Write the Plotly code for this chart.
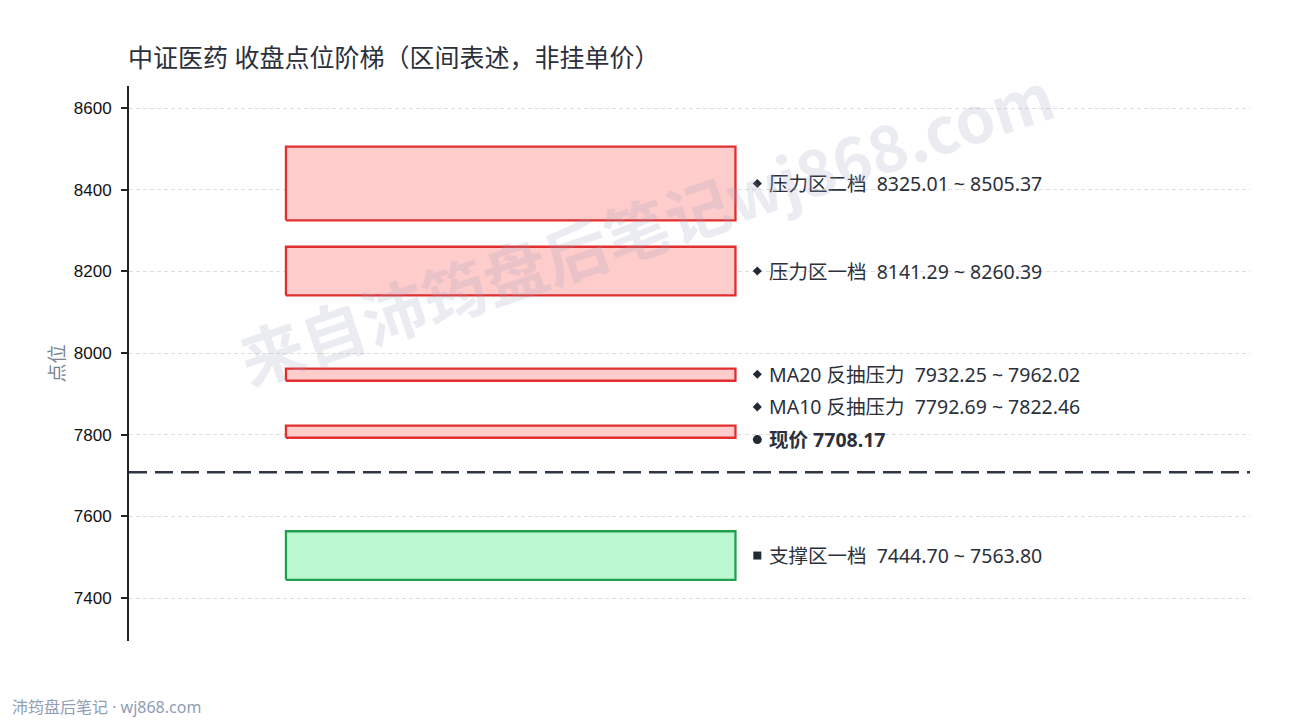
import plotly.graph_objects as go

# ---- data ----
zone_names = ["压力区二档", "压力区一档", "MA20 反抽压力", "MA10 反抽压力", "支撑区一档"]
zone_lows = [8325.01, 8141.29, 7932.25, 7792.69, 7444.70]
zone_highs = [8505.37, 8260.39, 7962.02, 7822.46, 7563.80]
zone_kinds = ["resist", "resist", "resist", "resist", "support"]
current_price = 7708.17
y_ticks = [7400, 7600, 7800, 8000, 8200, 8400, 8600]

# ---- style ----
BOX_X0, BOX_X1 = 0.14, 0.541
MARK_X, TEXT_X = 0.5605, 0.5695
MIN_GAP = 80.0
Y_RANGE = [7295, 8654]
STYLE = {
    "resist": dict(fill="#ffcccc", line="#e02f2f", symbol="diamond", msize=7),
    "support": dict(fill="#bbf7d0", line="#22a04f", symbol="square", msize=8),
}
TEXT_COLOR = "#2b303b"
FONT = "Noto Sans, Noto Sans CJK SC, sans-serif"
OFF = 8  # page body offset
L, R, T, B = 129 - OFF, 48, 86 - OFF, 87
PW, PH = 1290 - L - R, 720 - T - B

fig = go.Figure()

# boxes
for name, lo, hi, kind in zip(zone_names, zone_lows, zone_highs, zone_kinds):
    st = STYLE[kind]
    fig.add_trace(go.Scatter(
        x=[BOX_X0, BOX_X1, BOX_X1, BOX_X0, BOX_X0],
        y=[lo, lo, hi, hi, lo],
        mode="lines", fill="toself", fillcolor=st["fill"],
        line=dict(color=st["line"], width=2.3),
        hoverinfo="skip", showlegend=False,
    ))

# current price line
fig.add_trace(go.Scatter(
    x=[0, 1], y=[current_price, current_price], mode="lines",
    line=dict(color="#2f3744", width=2.4, dash="18px,8px"),
    hoverinfo="skip", showlegend=False,
))

# label placement (ascending, minimum gap)
labels = []
for name, lo, hi, kind in zip(zone_names, zone_lows, zone_highs, zone_kinds):
    labels.append(dict(y=(lo + hi) / 2, text=f"{name}\u00a0\u00a0{lo:.2f}\u00a0~\u00a0{hi:.2f}",
                       symbol=STYLE[kind]["symbol"], msize=STYLE[kind]["msize"], bold=False))
labels.append(dict(y=current_price + MIN_GAP, text=f"现价 {current_price:.2f}",
                   symbol="circle", msize=9, bold=True))
labels.sort(key=lambda d: d["y"])
prev = None
for lb in labels:
    if prev is not None and lb["y"] < prev + MIN_GAP:
        lb["y"] = prev + MIN_GAP
    prev = lb["y"]

for lb in labels:
    fig.add_trace(go.Scatter(
        x=[MARK_X], y=[lb["y"]], mode="markers",
        marker=dict(symbol=lb["symbol"], size=lb["msize"], color="#222a36"),
        hoverinfo="skip", showlegend=False,
    ))
    fig.add_annotation(
        x=TEXT_X, y=lb["y"], xref="x", yref="y", xanchor="left", yanchor="middle",
        text=(f"<b>{lb['text']}</b>" if lb["bold"] else lb["text"]),
        showarrow=False, font=dict(family=FONT, size=19.5, color=TEXT_COLOR),
    )

# watermark
fig.add_annotation(
    x=(645 - OFF - L) / PW, y=(720 - B - (225 - OFF)) / PH, xref="paper", yref="paper",
    xanchor="center", yanchor="middle",
    text="<b>来自沛筠盘后笔记wj868.com</b>", showarrow=False, textangle=-18.5,
    font=dict(family="Noto Sans CJK SC, sans-serif", size=64, color="rgba(150,160,190,0.2)"),
)

# footer
fig.add_annotation(
    x=(2 - L) / PW, y=-(B - 8) / PH, xref="paper", yref="paper",
    xanchor="left", yanchor="bottom", text="沛筠盘后笔记 · wj868.com", showarrow=False,
    font=dict(family=FONT, size=16, color="#8f9db5"),
)

fig.update_layout(
    width=1290, height=720,
    margin=dict(l=L, r=R, t=T, b=B, autoexpand=False),
    paper_bgcolor="white", plot_bgcolor="white",
    title=dict(text="中证医药 收盘点位阶梯（区间表述，非挂单价）", x=(L - 1) / 1290, xanchor="left",
               y=1 - 50 / 720, yanchor="middle", automargin=False,
               font=dict(family=FONT, size=25, color="#2b303b")),
    xaxis=dict(range=[0, 1], visible=False, fixedrange=True),
    yaxis=dict(
        range=Y_RANGE, tickvals=y_ticks, ticktext=[str(v) for v in y_ticks],
        automargin=False,
        showline=True, linecolor="#222", linewidth=2, ticks="outside", ticklen=6,
        tickwidth=2, tickcolor="#222", ticklabelstandoff=6,
        tickfont=dict(family="Liberation Sans, Arial, sans-serif", size=17, color="#111"),
        showgrid=True, gridcolor="#dedede", griddash="4px,3px", gridwidth=1,
        zeroline=False,
        title=dict(text="点位", font=dict(family=FONT, size=19, color="#7c8494"), standoff=4),
    ),
    showlegend=False,
)

fig.write_html("out.html")
